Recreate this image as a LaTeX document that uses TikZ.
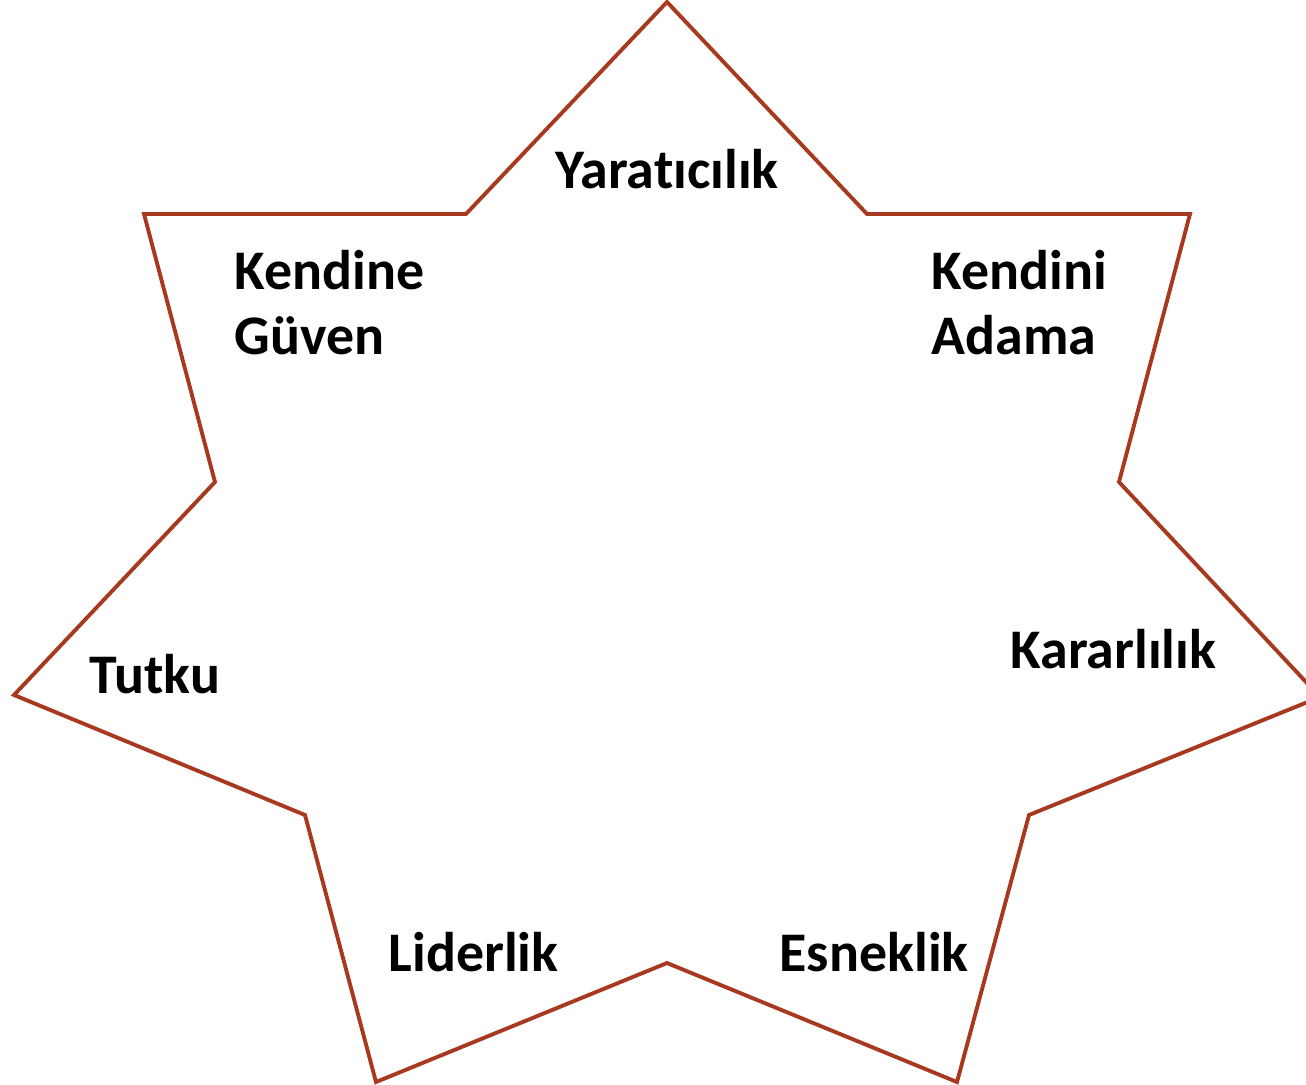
\documentclass[tikz,border=0pt]{standalone}
\usepackage{fontspec}
\setmainfont{Carlito}[Ligatures={NoCommon,NoDiscretionary}]
\usepackage{xcolor}
\usepackage{tikz}
\usetikzlibrary{positioning}

\definecolor{starline}{RGB}{168,56,30}
\tikzset{
  trait/.style={font=\fontsize{15.9}{18.2}\selectfont\bfseries, align=left, inner sep=0pt},
  staredge/.style={draw=starline, line width=1.1pt, line join=miter}
}

\begin{document}
\begin{tikzpicture}[x=0.01cm, y=-0.01cm]
      \useasboundingbox (0, 0) rectangle (1306, 1085);
      \clip (0, 0) rectangle (1306, 1085);

      % the seven-pointed star
      \draw[staredge] (667, 2) -- (867, 214) -- (1190, 214) -- (1119, 482)
        -- (1320, 697) -- (1029, 815) -- (957, 1082) -- (667, 963)
        -- (376, 1082) -- (305, 815) -- (14, 695) -- (215, 482)
        -- (144, 214) -- (466, 214) -- cycle;

      % labels
      \node[trait, anchor=base] (yaraticilik) at (667, 189) {Yaratıcılık};
      \node[trait, anchor=base west] (kendine) at (234, 354) {Kendine\\Güven};
      \node[trait, anchor=base west] (kendini) at (931, 354) {Kendini\\Adama};
      \node[trait, anchor=base west] (kararlilik) at (1010, 668) {Kararlılık};
      \node[trait, anchor=base west] (tutku) at (89, 693) {Tutku};
      \node[trait, anchor=base west] (liderlik) at (388, 971) {Liderlik};
      \node[trait, anchor=base west] (esneklik) at (779, 971) {Esneklik};
    \end{tikzpicture}
\end{document}
